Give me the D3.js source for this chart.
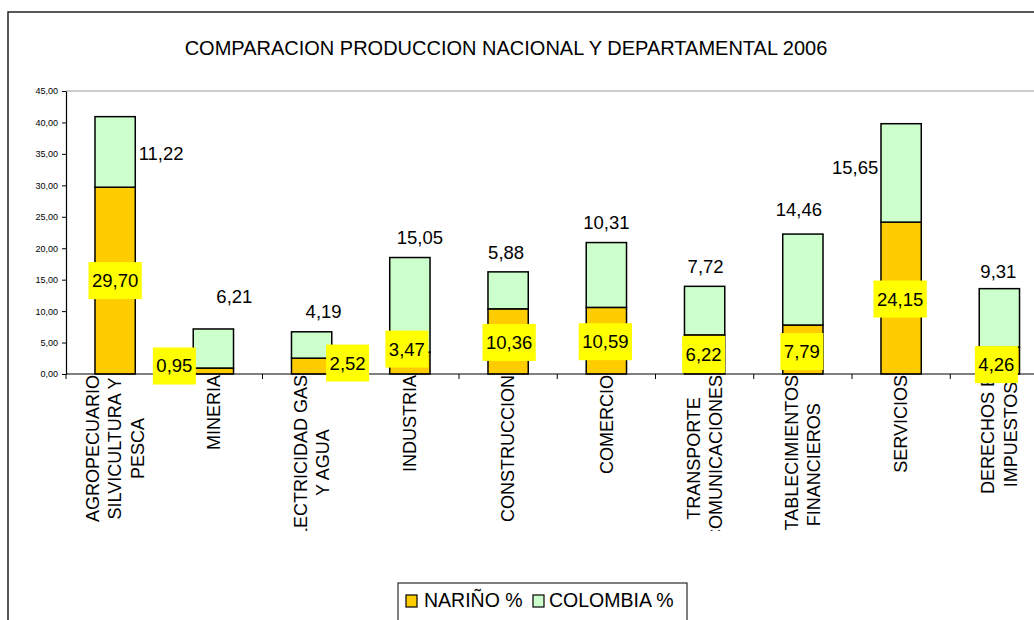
<!DOCTYPE html>
<html lang="es">

<head>
    <meta charset="UTF-8">
    <title>Comparacion produccion 2006</title>
    <style>
        body {
            margin: 0;
            background: #fff;
        }

        svg text {
            font-family: "Liberation Sans", Arial, sans-serif;
            fill: #000;
        }
    </style>
</head>

<body>
    <svg id="chart"></svg>
</body>
<script src="https://d3js.org/d3.v7.min.js"></script>
<script>
    // values
    const categories = [
        "AGROPECUARIO\nSILVICULTURA Y\nPESCA",
        "MINERIA",
        "ELECTRICIDAD GAS\nY AGUA",
        "INDUSTRIA",
        "CONSTRUCCION",
        "COMERCIO",
        "TRANSPORTE\nCOMUNICACIONES",
        "ESTABLECIMIENTOS\nFINANCIEROS",
        "SERVICIOS",
        "DERECHOS E\nIMPUESTOS"
    ];
    const narino = [29.70, 0.95, 2.52, 3.47, 10.36, 10.59, 6.22, 7.79, 24.15, 4.26];
    const colombia = [11.22, 6.21, 4.19, 15.05, 5.88, 10.31, 7.72, 14.46, 15.65, 9.31];
    const yTicks = [0, 5, 10, 15, 20, 25, 30, 35, 40, 45];
    const seriesNames = ["NARIÑO %", "COLOMBIA %"];

    // label nudges (the labels were moved by hand in the original)
    const narinoLabelShift = [[0, 0], [-39, -5], [36, -3], [-3, -14], [1, 1], [-1, 1], [-1, 0], [-1, 2], [-1, 1], [-3, 4]];
    const colombiaLabelShift = [[46, 37], [21, -32], [12, -20], [10, -20], [-2, -19], [0, -20], [1, -20], [-4, -25], [-46, 44], [-1, -17]];

    const width = 1034;
    const height = 620;
    const orange = "#FFCC00";
    const green = "#CCFFCC";
    const fmt = v => d3.format(".2f")(v).replace(".", ",");

    const svg = d3.select("#chart")
        .attr("width", width)
        .attr("height", height);

    // outer frame
    svg.append("rect")
        .attr("x", 8)
        .attr("y", 12)
        .attr("width", 1100)
        .attr("height", 700)
        .attr("fill", "none")
        .attr("stroke", "#222")
        .attr("stroke-width", 1.5);

    svg.append("text")
        .attr("x", 506)
        .attr("y", 55)
        .attr("text-anchor", "middle")
        .style("font-size", "20px")
        .text("COMPARACION PRODUCCION NACIONAL Y DEPARTAMENTAL 2006");

    const x = d3.scaleBand()
        .domain(d3.range(categories.length))
        .range([66, 1048.5])
        .paddingInner(0.59)
        .paddingOuter(0.295);

    const y = d3.scaleLinear()
        .domain([0, 45])
        .range([374, 91]);

    // top border of plot area
    svg.append("line")
        .attr("x1", 66).attr("x2", width)
        .attr("y1", y(45)).attr("y2", y(45))
        .attr("stroke", "#999")
        .attr("stroke-width", 1.2);

    // y axis
    const yAxis = svg.append("g")
        .attr("transform", "translate(66,0)")
        .call(d3.axisLeft(y).tickValues(yTicks).tickFormat(fmt).tickSizeInner(4).tickSizeOuter(0).tickPadding(4));
    yAxis.select(".domain").attr("stroke", "#000").attr("stroke-width", 1.2);
    yAxis.selectAll(".tick line").attr("stroke", "#000");
    yAxis.selectAll("text")
        .style("font-family", "\"Liberation Sans\", Arial, sans-serif")
        .style("font-size", "9px");

    // bars
    const stackData = categories.map((c, i) => ({ i, n: narino[i], c: colombia[i] }));

    const barG = svg.append("g")
        .attr("stroke", "#000")
        .attr("stroke-width", 1.5);

    barG.selectAll("rect.nar")
        .data(stackData)
        .join("rect")
        .attr("class", "nar")
        .attr("x", d => x(d.i))
        .attr("width", x.bandwidth())
        .attr("y", d => y(d.n))
        .attr("height", d => y(0) - y(d.n))
        .attr("fill", orange);

    barG.selectAll("rect.col")
        .data(stackData)
        .join("rect")
        .attr("class", "col")
        .attr("x", d => x(d.i))
        .attr("width", x.bandwidth())
        .attr("y", d => y(d.n + d.c))
        .attr("height", d => y(d.n) - y(d.n + d.c))
        .attr("fill", green);

    // x axis
    const baseY = y(0);
    svg.append("line")
        .attr("x1", 66).attr("x2", width)
        .attr("y1", baseY).attr("y2", baseY)
        .attr("stroke", "#000")
        .attr("stroke-width", 1.2);

    svg.append("g")
        .selectAll("line")
        .data(d3.range(categories.length + 1))
        .join("line")
        .attr("x1", i => 66 + i * x.step())
        .attr("x2", i => 66 + i * x.step())
        .attr("y1", baseY)
        .attr("y2", baseY + 5)
        .attr("stroke", "#000");

    // category labels, rotated, clipped at the bottom like the original
    svg.append("clipPath")
        .attr("id", "catclip")
        .append("rect")
        .attr("x", 0).attr("y", 300)
        .attr("width", width).attr("height", 231);

    const catG = svg.append("g").attr("clip-path", "url(#catclip)");
    const lineH = 22.5;

    categories.forEach((c, i) => {
        const lines = c.split("\n");
        const cx = x(i) + x.bandwidth() / 2;
        const g = catG.append("g")
            .attr("transform", `translate(${cx},375) rotate(-90)`);
        const texts = g.selectAll("text")
            .data(lines)
            .join("text")
            .style("font-size", "18px")
            .attr("text-anchor", "middle")
            .attr("dy", "0.35em")
            .attr("y", (l, k) => (k - (lines.length - 1) / 2) * lineH)
            .text(l => l);
        let maxW = 0;
        texts.each(function () { maxW = Math.max(maxW, this.getComputedTextLength()); });
        texts.attr("x", -maxW / 2);
    });

    // NARIÑO labels on yellow boxes
    stackData.forEach(d => {
        const cx = x(d.i) + x.bandwidth() / 2 + narinoLabelShift[d.i][0];
        const cy = (y(0) + y(d.n)) / 2 + narinoLabelShift[d.i][1];
        const box = svg.append("rect").attr("fill", "#FFFF00");
        const t = svg.append("text")
            .attr("x", cx)
            .attr("y", cy)
            .attr("dy", "0.35em")
            .attr("text-anchor", "middle")
            .style("font-size", "18.5px")
            .text(fmt(d.n));
        const w = t.node().getComputedTextLength() + 7;
        box.attr("x", cx - w / 2).attr("y", cy - 18.5)
            .attr("width", w).attr("height", 37);
    });

    // COLOMBIA labels
    svg.append("g")
        .selectAll("text")
        .data(stackData)
        .join("text")
        .attr("x", d => x(d.i) + x.bandwidth() / 2 + colombiaLabelShift[d.i][0])
        .attr("y", d => y(d.n + d.c) + colombiaLabelShift[d.i][1])
        .attr("dy", "0.35em")
        .attr("text-anchor", "middle")
        .style("font-size", "18.5px")
        .text(d => fmt(d.c));

    // legend
    const legend = svg.append("g");
    legend.append("rect")
        .attr("x", 398).attr("y", 583)
        .attr("width", 289).attr("height", 60)
        .attr("fill", "#fff")
        .attr("stroke", "#000")
        .attr("stroke-width", 1);

    const legendX = [406, 533];
    const textX = [424, 549];
    [orange, green].forEach((col, k) => {
        legend.append("rect")
            .attr("x", legendX[k]).attr("y", 595)
            .attr("width", 11).attr("height", 12)
            .attr("fill", col)
            .attr("stroke", "#000")
            .attr("stroke-width", 1.2);
        legend.append("text")
            .attr("x", textX[k]).attr("y", 607)
            .style("font-size", "19.5px")
            .text(seriesNames[k]);
    });
</script>

</html>
